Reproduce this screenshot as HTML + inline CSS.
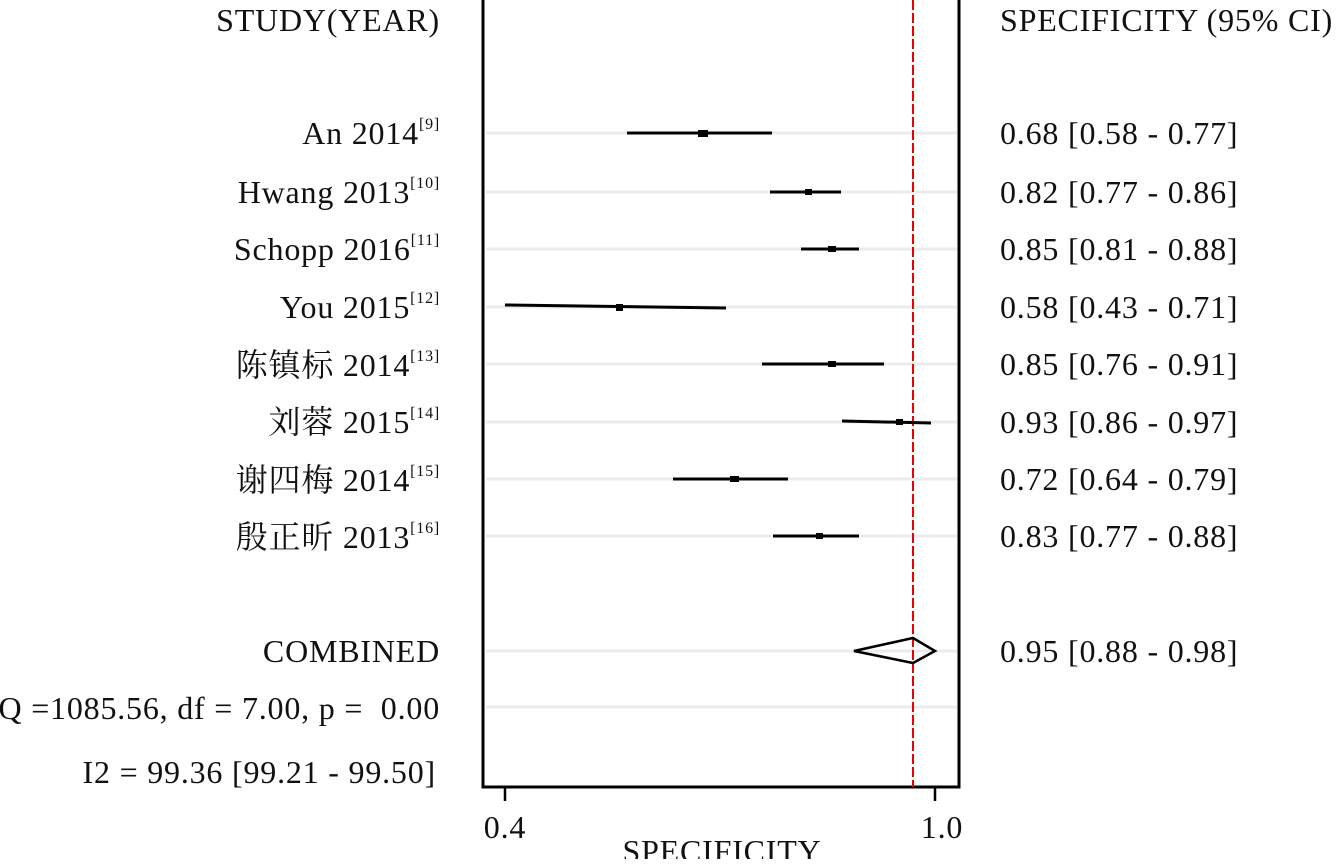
<!DOCTYPE html>
<html><head><meta charset="utf-8"><style>
html,body{margin:0;padding:0;background:#fff;}
svg text{font-family:"Liberation Serif","Noto Serif CJK SC",serif;fill:#111;}
</style></head><body>
<svg width="1340" height="859" viewBox="0 0 1340 859" xmlns="http://www.w3.org/2000/svg">
<g stroke="#e8eced" stroke-width="3">
<line x1="486" y1="133" x2="957" y2="133"/><line x1="486" y1="192" x2="957" y2="192"/>
<line x1="486" y1="249" x2="957" y2="249"/><line x1="486" y1="307" x2="957" y2="307"/>
<line x1="486" y1="364" x2="957" y2="364"/><line x1="486" y1="422" x2="957" y2="422"/>
<line x1="486" y1="479" x2="957" y2="479"/><line x1="486" y1="536" x2="957" y2="536"/>
<line x1="486" y1="651" x2="957" y2="651"/><line x1="486" y1="707" x2="957" y2="707"/>
</g>
<polyline points="483,0 483,787 959,787 959,0" fill="none" stroke="#000" stroke-width="3"/>
<line x1="505" y1="787" x2="505" y2="801" stroke="#000" stroke-width="2.5"/>
<line x1="935" y1="787" x2="935" y2="801" stroke="#000" stroke-width="2.5"/>
<line x1="913" y1="0" x2="913" y2="787" stroke="#e00" stroke-width="2" stroke-dasharray="10,3"/>
<g stroke="#000" stroke-width="3">
<line x1="627" y1="133" x2="772" y2="133"/>
<line x1="770" y1="192" x2="841" y2="192"/>
<line x1="801" y1="249" x2="859" y2="249"/>
<line x1="505" y1="305" x2="726" y2="308"/>
<line x1="762" y1="364" x2="884" y2="364"/>
<line x1="842" y1="421" x2="931" y2="423"/>
<line x1="673" y1="479" x2="788" y2="479"/>
<line x1="773" y1="536" x2="859" y2="536"/>
</g>
<g fill="#000">
<rect x="698" y="130" width="10" height="7"/><rect x="805" y="189" width="7" height="6"/>
<rect x="828" y="246" width="8" height="6"/><rect x="616" y="304" width="7" height="7"/>
<rect x="828" y="361" width="8" height="6"/><rect x="896" y="419" width="7" height="6"/>
<rect x="730" y="476" width="9" height="6"/><rect x="816" y="533" width="7" height="6"/>
</g>
<polygon points="854,651 913,638 935,651 913,663" fill="none" stroke="#000" stroke-width="2.5"/>
<g font-size="32" letter-spacing="0.8" text-anchor="end">
<text x="440" y="31">STUDY(YEAR)</text>
<text x="440" y="144">An 2014<tspan font-size="16" dy="-15">[9]</tspan></text>
<text x="440" y="203">Hwang 2013<tspan font-size="16" dy="-15">[10]</tspan></text>
<text x="440" y="260">Schopp 2016<tspan font-size="16" dy="-15">[11]</tspan></text>
<text x="440" y="318">You 2015<tspan font-size="16" dy="-15">[12]</tspan></text>
<text x="440" y="376">陈镇标 2014<tspan font-size="16" dy="-15">[13]</tspan></text>
<text x="440" y="433">刘蓉 2015<tspan font-size="16" dy="-15">[14]</tspan></text>
<text x="440" y="491">谢四梅 2014<tspan font-size="16" dy="-15">[15]</tspan></text>
<text x="440" y="548">殷正昕 2013<tspan font-size="16" dy="-15">[16]</tspan></text>
<text x="440" y="662">COMBINED</text>
<text x="440" y="719">Q =1085.56, df = 7.00, p = &#160;0.00</text>
<text x="436" y="783">I2 = 99.36 [99.21 - 99.50]</text>
</g>
<g font-size="32" letter-spacing="0.8">
<text x="1000" y="31">SPECIFICITY (95% CI)</text>
<text x="1000" y="144">0.68 [0.58 - 0.77]</text>
<text x="1000" y="203">0.82 [0.77 - 0.86]</text>
<text x="1000" y="260">0.85 [0.81 - 0.88]</text>
<text x="1000" y="318">0.58 [0.43 - 0.71]</text>
<text x="1000" y="375">0.85 [0.76 - 0.91]</text>
<text x="1000" y="433">0.93 [0.86 - 0.97]</text>
<text x="1000" y="490">0.72 [0.64 - 0.79]</text>
<text x="1000" y="547">0.83 [0.77 - 0.88]</text>
<text x="1000" y="662">0.95 [0.88 - 0.98]</text>
</g>
<g font-size="32" letter-spacing="0.8" text-anchor="middle">
<text x="505" y="838">0.4</text>
<text x="942" y="838">1.0</text>
<text x="722" y="862">SPECIFICITY</text>
</g>
</svg>
</body></html>
